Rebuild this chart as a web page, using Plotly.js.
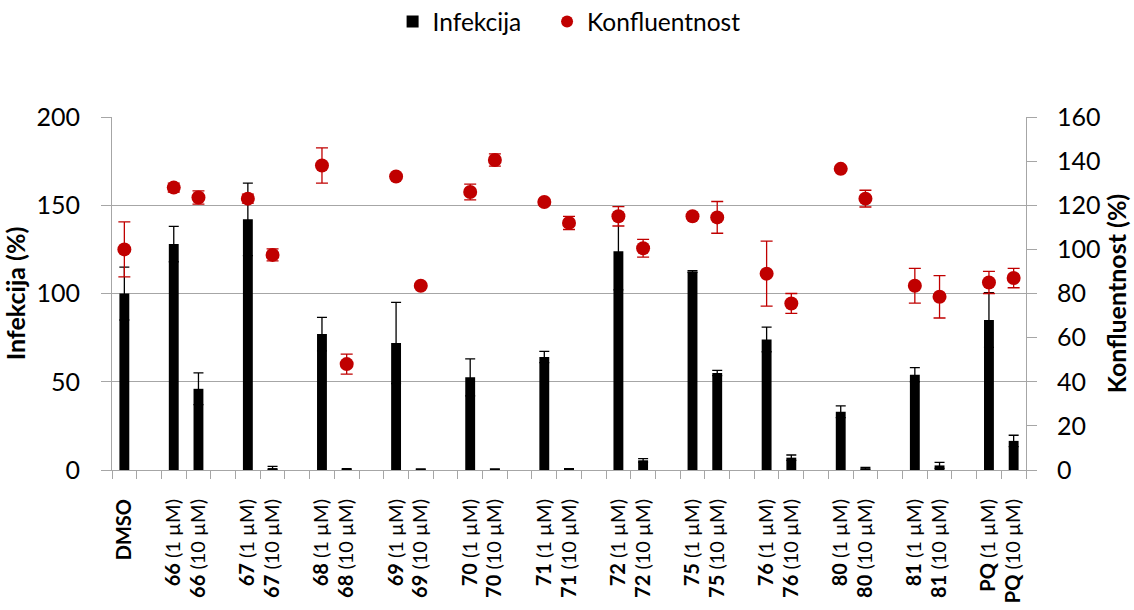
<!DOCTYPE html>
<html>
<head>
<meta charset="utf-8">
<script src="https://cdn.plot.ly/plotly-3.0.1.min.js"></script>
<style>html,body{margin:0;padding:0;background:#fff}#chart{width:1134px;height:610px}</style>
</head>
<body>
<div id="chart"></div>
<script>
// ---- data ----
const compounds = ['66','67','68','69','70','71','72','75','76','80','81','PQ'];
const doses = ['1 µM','10 µM'];
const controlLabel = 'DMSO';

// Infekcija (%) – left axis
const infection    = [100, 128, 46, 142, 1.1, 77, 0.4, 72, 0.3, 52.5, 0.3, 64, 0.5, 124, 5.5, 112.5, 55, 74, 7, 33, 1, 54, 2.6, 85, 16.5];
const infectionErr = [15, 10, 9, 20.5, 1, 9.5, 0.3, 23, 0.3, 10.5, 0.3, 3.2, 0.3, 22, 1, 0.5, 1.5, 7, 1.5, 3.3, 0.5, 4, 1.7, 15.5, 3.2];
// Konfluentnost (%) – right axis
const confluence    = [100, 128, 123.5, 123, 97.5, 138, 48, 133, 83.5, 126, 140.5, 121.5, 112, 115, 100.5, 115, 114.5, 89, 75.5, 136.5, 123, 83.5, 78.5, 85, 87];
const confluenceErr = [12.5, 2, 3, 2, 2.7, 8, 4.5, 1, 1, 3.6, 2.8, 1, 3, 4.4, 4, 1, 7.2, 14.7, 4.5, 1, 3.8, 7.9, 9.6, 5, 4.4];

// ---- build category axis (with spacer slots between groups) ----
const allCats = [controlLabel];
const allText = ['<b>' + controlLabel + '</b>'];
const dataCats = [controlLabel];
compounds.forEach(c => {
  allCats.push('gap_' + c); allText.push('');
  doses.forEach(d => {
    const key = c + ' (' + d + ')';
    allCats.push(key); allText.push('<b>' + c + '</b> (' + d + ')');
    dataCats.push(key);
  });
});

const RED = '#C00000';
const GRID = '#a6a6a6';
const FONT = 'Lato, Carlito, Calibri, sans-serif';
const LEGEND_FONT = {family: FONT, size: 24.5, color: '#000'};

const traces = [
  {
    type: 'bar', name: 'Infekcija', x: dataCats, y: infection,
    marker: {color: '#000000', line: {width: 0}},
    width: 0.4,
    error_y: {type: 'data', array: infectionErr, visible: true, color: '#000000', thickness: 1.3, width: 5},
    xaxis: 'x', yaxis: 'y', legend: 'legend'
  },
  {
    type: 'scatter', mode: 'markers', name: 'Konfluentnost', x: dataCats, y: confluence,
    marker: {color: RED, size: 14},
    error_y: {type: 'data', array: confluenceErr, visible: true, color: RED, thickness: 1.3, width: 6},
    xaxis: 'x', yaxis: 'y2', legend: 'legend2'
  }
];

const layout = {
  width: 1134, height: 610,
  margin: {l: 112, r: 108, t: 117, b: 140, pad: 0, autoexpand: false},
  paper_bgcolor: '#ffffff', plot_bgcolor: '#ffffff',
  font: {family: FONT, color: '#000000'},
  showlegend: true,
  legend: {orientation: 'h', x: 0.307, xanchor: 'left', y: 1.27, yanchor: 'middle',
           font: LEGEND_FONT, itemsizing: 'constant'},
  legend2: {orientation: 'h', x: 0.476, xanchor: 'left', y: 1.27, yanchor: 'middle',
           font: LEGEND_FONT, itemsizing: 'constant'},
  xaxis: {
    type: 'category', categoryorder: 'array', categoryarray: allCats,
    tickvals: allCats, ticktext: allText,
    range: [-0.5, allCats.length - 0.5],
    tickson: 'boundaries', ticks: 'outside', ticklen: 8, tickcolor: GRID, tickwidth: 1,
    tickangle: -90, tickfont: {family: FONT, size: 20, color: '#000'},
    ticklabelstandoff: 20,
    showline: true, linecolor: GRID, linewidth: 1, showgrid: false, zeroline: false, fixedrange: true
  },
  yaxis: {
    range: [0, 200], dtick: 50, tick0: 0,
    showgrid: true, gridcolor: GRID, gridwidth: 1,
    showline: true, linecolor: GRID, linewidth: 1,
    ticks: 'outside', ticklen: 10, tickcolor: GRID,
    tickfont: {family: FONT, size: 25, color: '#000'},
    ticklabelstandoff: 16,
    zeroline: false,
    title: {text: '<b>Infekcija (%)</b>', font: {family: FONT, size: 25, color: '#000'}, standoff: 6}
  },
  yaxis2: {
    overlaying: 'y', side: 'right', range: [0, 160], dtick: 20, tick0: 0,
    showgrid: false, showline: true, linecolor: GRID, linewidth: 1,
    ticks: 'outside', ticklen: 10, tickcolor: GRID,
    tickfont: {family: FONT, size: 25, color: '#000'},
    ticklabelstandoff: 15,
    zeroline: false,
    title: {text: '<b>Konfluentnost (%)</b>', font: {family: FONT, size: 25, color: '#000'}, standoff: 4}
  }
};

Plotly.newPlot('chart', traces, layout, {displayModeBar: false, staticPlot: true});
</script>
</body>
</html>
